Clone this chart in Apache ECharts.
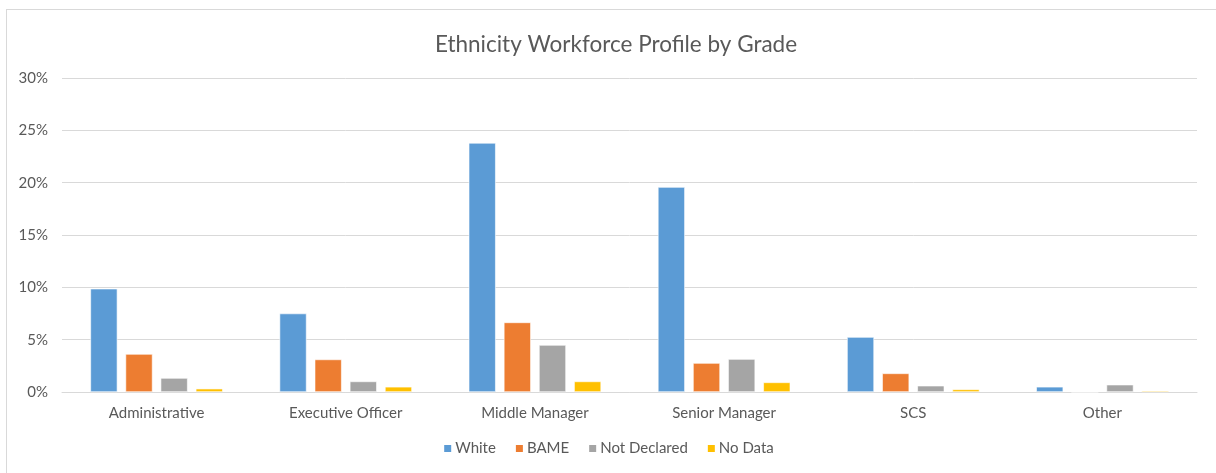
<!DOCTYPE html>
<html lang="en">
<head>
    <meta charset="UTF-8">
    <title>Ethnicity Workforce Profile by Grade</title>
    <script src="https://cdn.jsdelivr.net/npm/echarts@6/dist/echarts.min.js"></script>
    <style>
        html, body { margin: 0; padding: 0; background: #fff; }
        #frame { position: absolute; left: 6px; top: 9px; width: 1220px; height: 480px; border: 1px solid #d9d9d9; box-sizing: border-box; }
        #main { position: absolute; left: 0; top: 0; width: 1216px; height: 473px; }
    </style>
</head>
<body>
    <div id="frame"></div>
    <div id="main"></div>
    <script type="text/javascript">
        // 数据
        var grades = ['Administrative', 'Executive Officer', 'Middle Manager', 'Senior Manager', 'SCS', 'Other'];
        var white = [9.87, 7.5, 23.8, 19.58, 5.25, 0.5];
        var bame = [3.63, 3.11, 6.65, 2.77, 1.78, 0];
        var notDeclared = [1.34, 1.01, 4.49, 3.15, 0.6, 0.7];
        var noData = [0.32, 0.5, 1.01, 0.92, 0.25, 0.12];
        var yTicks = [0, 5, 10, 15, 20, 25, 30];

        var font = 'Lato, "Open Sans", sans-serif';
        var myChart = echarts.init(document.getElementById('main'));

        function bar(name, data, color) {
            return {
                name: name,
                type: 'bar',
                data: data,
                barGap: '30%',
                barCategoryGap: '30%',
                itemStyle: { color: color, borderColor: '#fff', borderWidth: 0.6 },
                emphasis: { disabled: true }
            };
        }

        var option = {
            animation: false,
            title: {
                text: 'Ethnicity Workforce Profile by Grade',
                left: 611,
                top: 28,
                textAlign: 'center',
                textStyle: { fontFamily: font, fontSize: 22.5, fontWeight: 'normal', color: '#595959' }
            },
            legend: {
                data: ['White', 'BAME', 'Not Declared', 'No Data'],
                bottom: 12,
                left: 'center',
                itemWidth: 9,
                itemHeight: 9,
                itemGap: 18,
                icon: 'rect',
                textStyle: { fontFamily: font, fontSize: 15, color: '#595959', padding: [0, 0, 0, -2] }
            },
            grid: { left: 62, right: 19, top: 78, bottom: 81, containLabel: false },
            xAxis: {
                type: 'category',
                data: grades,
                axisLine: { lineStyle: { color: '#d9d9d9' } },
                axisTick: { show: false },
                axisLabel: { fontFamily: font, fontSize: 15, color: '#595959', margin: 14 }
            },
            yAxis: {
                type: 'value',
                min: yTicks[0],
                max: yTicks[yTicks.length - 1],
                interval: 5,
                axisLine: { show: false },
                axisTick: { show: false },
                splitLine: { lineStyle: { color: '#d9d9d9' } },
                axisLabel: { fontFamily: font, fontSize: 15, color: '#595959', margin: 14, formatter: '{value}%' }
            },
            series: [
                bar('White', white, '#5b9bd5'),
                bar('BAME', bame, '#ed7d31'),
                bar('Not Declared', notDeclared, '#a5a5a5'),
                bar('No Data', noData, '#ffc000')
            ]
        };

        myChart.setOption(option);
    </script>
</body>
</html>
